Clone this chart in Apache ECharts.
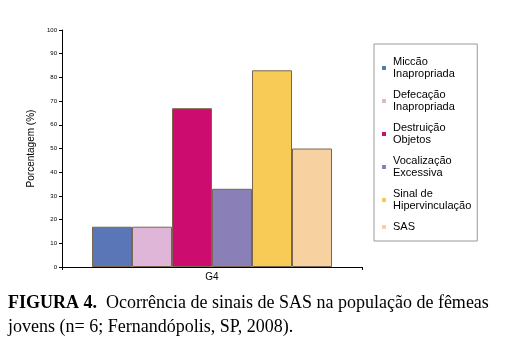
<!DOCTYPE html>
<html>
<head>
<meta charset="utf-8">
<script src="https://cdn.jsdelivr.net/npm/echarts@6/dist/echarts.min.js"></script>
<style>
  html, body { margin: 0; padding: 0; background: #fff; }
  #chart { width: 510px; height: 352px; }
</style>
</head>
<body>
<div id="chart"></div>
<script>
var categories = ['G4'];
var seriesNames = ['Miccão\nInapropriada', 'Defecação\nInapropriada', 'Destruição\nObjetos', 'Vocalização\nExcessiva', 'Sinal de\nHipervinculação', 'SAS'];
var seriesValues = [17, 17, 67, 33, 83, 50];
var colors = ['#5b76b6', '#dfb6d7', '#cc0c6e', '#8a7fb6', '#f8cb56', '#f8d1a0'];
var yTicks = [0, 10, 20, 30, 40, 50, 60, 70, 80, 90, 100];

var chart = echarts.init(document.getElementById('chart'));

var series = seriesNames.map(function(name, i) {
    return {
        name: name,
        type: 'bar',
        data: [seriesValues[i]],
        barGap: '0%',
        barCategoryGap: '20%',
        itemStyle: { color: colors[i], borderColor: '#7a6650', borderWidth: 1 }
    };
});

var option = {
    animation: false,
    color: colors,
    grid: { left: 62, top: 30, right: 148, bottom: 85 },
    title: {
        left: 3,
        top: 286,
        text: '{b|FIGURA 4.}{n|  Ocorrência de sinais de SAS na população de fêmeas}\n{n|jovens (n= 6; Fernandópolis, SP, 2008).}',
        textStyle: {
            fontWeight: 'normal',
            rich: {
                b: { fontFamily: 'Liberation Serif', fontWeight: 'bold', fontSize: 18, color: '#000', lineHeight: 24 },
                n: { fontFamily: 'Liberation Serif', fontWeight: 'normal', fontSize: 18, color: '#000', lineHeight: 24 }
            }
        }
    },
    legend: {
        orient: 'vertical',
        left: 374,
        top: 44,
        padding: [12, 6, 8, 8],
        itemWidth: 4,
        itemHeight: 4,
        itemGap: 9,
        icon: 'rect',
        itemStyle: { borderWidth: 0 },
        borderColor: '#999',
        borderWidth: 1,
        textStyle: { fontFamily: 'Liberation Sans', fontSize: 11, color: '#000', lineHeight: 12, padding: [0, 0, 0, 2] },
        data: seriesNames
    },
    xAxis: {
        type: 'category',
        data: categories,
        axisLine: { lineStyle: { color: '#000', width: 1 } },
        axisTick: { show: true, length: 3, lineStyle: { color: '#000' } },
        axisLabel: { fontFamily: 'Liberation Sans', fontSize: 10, color: '#000', margin: 5 }
    },
    yAxis: {
        type: 'value',
        min: 0,
        max: 100,
        interval: 10,
        name: 'Porcentagem (%)',
        nameLocation: 'middle',
        nameGap: 24,
        nameTextStyle: { fontFamily: 'Liberation Sans', fontSize: 10, color: '#000' },
        axisLine: { show: true, lineStyle: { color: '#000', width: 1 } },
        axisTick: { show: true, length: 3, lineStyle: { color: '#000' } },
        axisLabel: {
            fontFamily: 'Liberation Sans', fontSize: 6, color: '#000', margin: 5,
            formatter: function(v) { return yTicks.indexOf(v) >= 0 ? String(v) : ''; }
        },
        splitLine: { show: false }
    },
    series: series
};

chart.setOption(option);
</script>
</body>
</html>
